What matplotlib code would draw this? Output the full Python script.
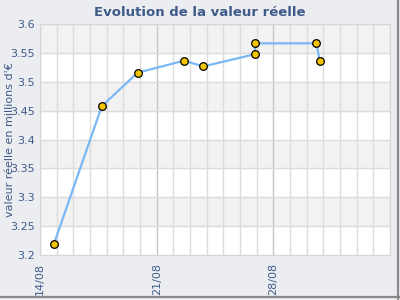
import matplotlib
matplotlib.use("Agg")
import matplotlib.pyplot as plt
import matplotlib.dates as mdates
import pandas as pd

# données
dates = pd.to_datetime([
    "2023-08-14 20:00", "2023-08-17 17:00", "2023-08-19 20:30",
    "2023-08-22 15:30", "2023-08-23 19:00", "2023-08-26 21:00",
    "2023-08-26 22:00", "2023-08-30 14:00", "2023-08-30 18:45",
])
values = [3.219, 3.458, 3.516, 3.537, 3.527, 3.548, 3.567, 3.567, 3.537]
y_ticks = [3.2, 3.25, 3.3, 3.35, 3.4, 3.45, 3.5, 3.55, 3.6]
y_labels = ["3.2", "3.25", "3.3", "3.35", "3.4", "3.45", "3.5", "3.55", "3.6"]
x_start, x_end = pd.Timestamp("2023-08-14"), pd.Timestamp("2023-09-04")

BG = "#ebedf0"
TXT = "#3f5a8a"

fig = plt.figure(figsize=(4, 3), dpi=100, facecolor=BG)
ax = fig.add_axes([0.1, 0.15, 0.875, 0.769])
ax.set_facecolor("white")

# bandes alternées
for i in range(len(y_ticks) - 1):
    if i % 2 == 1:
        ax.axhspan(y_ticks[i], y_ticks[i + 1], color="#f2f2f2", zorder=0)

ax.set_xlim(x_start, x_end)
ax.set_ylim(y_ticks[0], y_ticks[-1])
ax.set_yticks(y_ticks)
ax.set_yticklabels(y_labels)

ax.xaxis.set_major_locator(mdates.DayLocator(bymonthday=[14, 21, 28]))
ax.xaxis.set_major_formatter(mdates.DateFormatter("%d/%m"))
ax.xaxis.set_minor_locator(mdates.DayLocator())
ax.grid(which="minor", axis="x", color="#dcdcdc", lw=1, zorder=1)
ax.grid(which="major", axis="x", color="#c6c6c6", lw=1, zorder=1)
ax.grid(which="major", axis="y", color="#dcdcdc", lw=1, zorder=1)

ax.tick_params(axis="both", which="both", length=0, colors=TXT, labelsize=8)
ax.tick_params(axis="x", pad=6)
for lbl in ax.get_xticklabels():
    lbl.set_rotation(90)
for s in ax.spines.values():
    s.set_color("#d6d6d6")

ax.plot(dates, values, color="#7ab8f5", lw=1.6, zorder=3)
ax.plot(dates, values, ls="none", marker="o", ms=5.5, mfc="#f5c400",
        mec="black", mew=0.9, zorder=4)

ax.set_ylabel("valeur réelle en millions d'€", fontsize=8, color=TXT)
ax.yaxis.set_label_coords(-0.07, 0.5)

fig.text(0.5, 0.958, "Evolution de la valeur réelle", ha="center", va="center",
         fontsize=9.5, fontweight="bold", color=TXT)

# bordure ombrée droite / bas
fig.add_artist(plt.Line2D([0.996, 0.996], [0.0, 1.0], transform=fig.transFigure,
                          color="#8a8a8a", lw=1.6))
fig.add_artist(plt.Line2D([0.0, 1.0], [0.009, 0.009], transform=fig.transFigure,
                          color="#8a8a8a", lw=1.6))

fig.savefig("out.png", dpi=100, facecolor=BG)
